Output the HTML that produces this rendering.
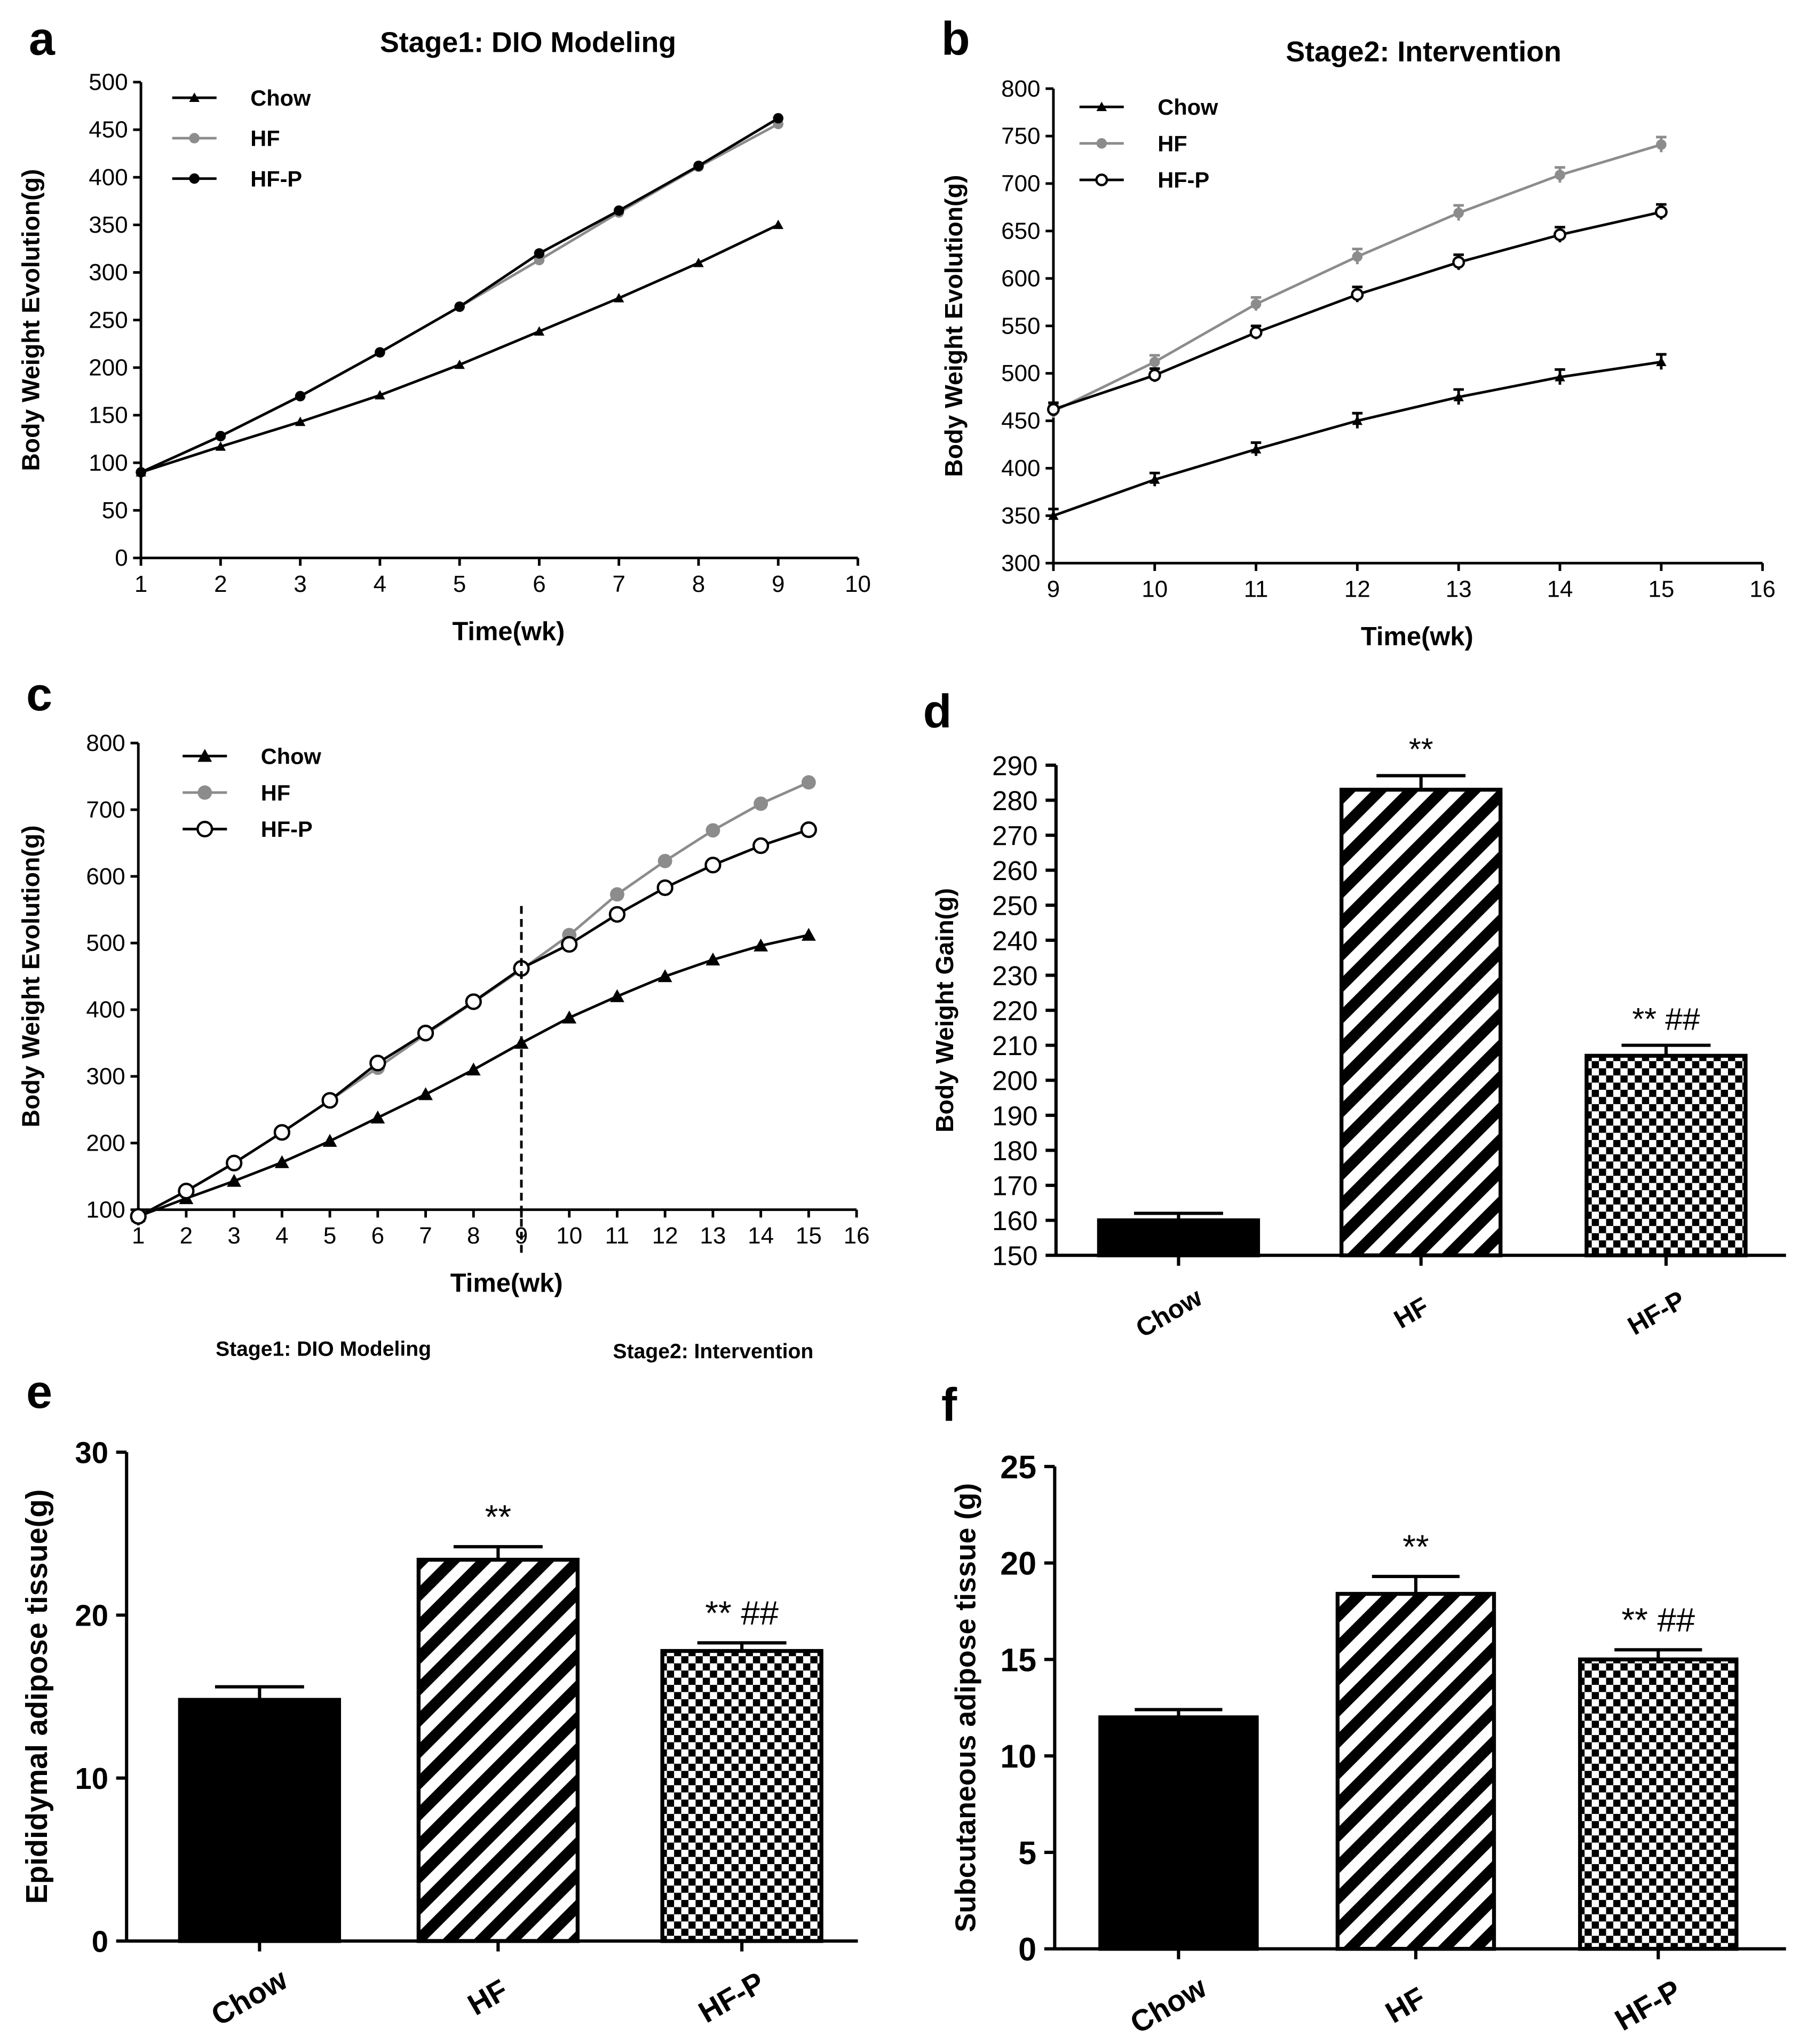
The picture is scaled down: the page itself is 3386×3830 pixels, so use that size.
<!DOCTYPE html>
<html><head><meta charset="utf-8">
<style>
html,body{margin:0;padding:0;background:#fff;}
svg{display:block;font-family:"Liberation Sans",Arial,sans-serif;}
</style></head>
<body>
<svg id="fig" width="3386" height="3830" viewBox="0 0 1386 1568" xmlns="http://www.w3.org/2000/svg">
<defs>
<pattern id="stripes" patternUnits="userSpaceOnUse" width="17" height="17" patternTransform="rotate(45)">
<rect width="17" height="17" fill="#fff"/><rect width="8.5" height="17" fill="#000"/>
</pattern>
<pattern id="checks" patternUnits="userSpaceOnUse" width="11" height="11">
<rect width="11" height="11" fill="#fff"/><rect width="5.5" height="5.5" fill="#000"/><rect x="5.5" y="5.5" width="5.5" height="5.5" fill="#000"/>
</pattern>
</defs>
</svg>
<script>
// ---------- data ----------
const weeksA=[1,2,3,4,5,6,7,8,9];
const chowA=[90,117,143,171,203,238,273,310,350];
const hfA=[90,128,170,216,264,313,363,411,456];
const hfpA=[90,128,170,216,264,320,365,412,462];
const weeksB=[9,10,11,12,13,14,15];
const chowB=[350,388,420,450,475,496,512];
const hfB=[460,512,573,623,669,709,741];
const hfpB=[462,498,543,583,617,646,670];
const errB=[7,7,7,8,8,8,8];
const weeksC=[1,2,3,4,5,6,7,8,9,10,11,12,13,14,15];
const chowC=[90,117,143,171,203,238,273,310,350,388,420,450,475,496,512];
const hfC=[90,128,170,216,264,313,363,411,460,512,573,623,669,709,741];
const hfpC=[90,128,170,216,264,320,365,412,462,498,543,583,617,646,670];
const barCats=["Chow","HF","HF-P"];
const gainVals=[160,283,207];
const gainErr=[2,4,3];
const epiVals=[14.8,23.4,17.8];
const epiErr=[0.8,0.8,0.5];
const subVals=[12,18.4,15];
const subErr=[0.4,0.9,0.5];
const ticksA=[0,50,100,150,200,250,300,350,400,450,500];
const ticksB=[300,350,400,450,500,550,600,650,700,750,800];
const ticksC=[100,200,300,400,500,600,700,800];
const ticksD=[150,160,170,180,190,200,210,220,230,240,250,260,270,280,290];
const ticksE=[0,10,20,30];
const ticksF=[0,5,10,15,20,25];

const svg=document.getElementById('fig');
const NS='http://www.w3.org/2000/svg';
function el(tag,attrs,parent){const e=document.createElementNS(NS,tag);for(const k in attrs)e.setAttribute(k,attrs[k]);(parent||svg).appendChild(e);return e;}
function txt(s,x,y,opt,parent){const t=el('text',Object.assign({x:x,y:y,'font-size':17,'font-weight':'bold','text-anchor':'middle',fill:'#000'},opt||{}),parent);t.textContent=s;return t;}
function lin(d0,d1,r0,r1){return v=>r0+(v-d0)*(r1-r0)/(d1-d0);}

function marker(g,type,x,y,color,s){
  if(type==='tri'){el('polygon',{points:`${x},${y-s} ${x-s},${y+s*0.8} ${x+s},${y+s*0.8}`,fill:color},g);}
  else if(type==='dot'){el('circle',{cx:x,cy:y,r:s,fill:color},g);}
  else {el('circle',{cx:x,cy:y,r:s,fill:'#fff',stroke:color,'stroke-width':1.8},g);}
}

function linePanel(cfg){
  const g=el('g',{});
  
  
  const X=lin(cfg.xd[0],cfg.xd[1],cfg.xr[0],cfg.xr[1]);
  const Y=lin(cfg.yd[0],cfg.yd[1],cfg.yr[0],cfg.yr[1]);
  const x0=cfg.xr[0], yb=cfg.yr[0];
  el('line',{x1:x0,y1:cfg.yaxBottom||yb,x2:x0,y2:cfg.yr[1],stroke:'#000','stroke-width':2},g);
  el('line',{x1:x0,y1:yb,x2:cfg.xr[1],y2:yb,stroke:'#000','stroke-width':2},g);
  cfg.yticks.forEach(v=>{el('line',{x1:x0-6,y1:Y(v),x2:x0,y2:Y(v),stroke:'#000','stroke-width':2},g);
    const t=txt(String(v),x0-10,Y(v)+6,{'text-anchor':'end','font-weight':'normal','font-size':18},g);
    });
  for(let v=cfg.xd[0];v<=cfg.xd[1];v++){el('line',{x1:X(v),y1:yb,x2:X(v),y2:yb+6,stroke:'#000','stroke-width':2},g);
    const t=txt(String(v),X(v),yb+26,{'font-weight':'normal','font-size':18},g);
    }
  const xt=txt('Time(wk)',(cfg.xr[0]+cfg.xr[1])/2+7,yb+63,{'font-size':20},g);
  
  const cy=(cfg.yr[0]+cfg.yr[1])/2;
  const yt=txt('Body Weight Evolution(g)',cfg.ylx,cy,{'font-size':19,transform:`rotate(-90 ${cfg.ylx} ${cy})`},g);
  
  cfg.series.forEach((s,si)=>{
    const sg=el('g',{},g);
    
    
    const pts=cfg.weeks.map((w,i)=>X(w)+','+Y(s.vals[i])).join(' ');
    el('polyline',{points:pts,fill:'none',stroke:s.color,'stroke-width':2},sg);
    cfg.weeks.forEach((w,i)=>{
      if(s.err){el('line',{x1:X(w),y1:Y(s.vals[i]+s.err[i]),x2:X(w),y2:Y(s.vals[i]-s.err[i]),stroke:s.color,'stroke-width':2},sg);
        el('line',{x1:X(w)-4,y1:Y(s.vals[i]+s.err[i]),x2:X(w)+4,y2:Y(s.vals[i]+s.err[i]),stroke:s.color,'stroke-width':2},sg);}
      marker(sg,s.m,X(w),Y(s.vals[i]),s.color,cfg.ms);});
    const ly=cfg.legY+si*cfg.legDY;
    const lg=el('g',{},g);
    
    
    el('line',{x1:cfg.legX,y1:ly,x2:cfg.legX+34,y2:ly,stroke:s.color,'stroke-width':2},lg);
    marker(lg,s.m,cfg.legX+17,ly,s.color,cfg.ms);
    txt(s.label,cfg.legX+60,ly+6,{'text-anchor':'start','font-size':17},lg);
  });
  return {g,X,Y};
}

function barPanel(cfg){
  const g=el('g',{});
  
  
  const Y=lin(cfg.yd[0],cfg.yd[1],cfg.yr[0],cfg.yr[1]);
  const x0=cfg.xr[0],yb=cfg.yr[0];
  el('line',{x1:x0,y1:yb,x2:x0,y2:cfg.yr[1],stroke:'#000','stroke-width':2.5},g);
  el('line',{x1:x0,y1:yb,x2:cfg.xr[1],y2:yb,stroke:'#000','stroke-width':2.5},g);
  cfg.yticks.forEach(v=>{el('line',{x1:x0-8,y1:Y(v),x2:x0,y2:Y(v),stroke:'#000','stroke-width':2.5},g);
    const t=txt(String(v),x0-14,Y(v)+cfg.tfs*0.36,{'text-anchor':'end','font-weight':cfg.tfw,'font-size':cfg.tfs},g);
    });
  const cy=(cfg.yr[0]+cfg.yr[1])/2;
  const yt=txt(cfg.ylabel,cfg.ylx,cy,{'font-size':cfg.yfs,transform:`rotate(-90 ${cfg.ylx} ${cy})`},g);
  
  const fills=['#000','url(#stripes)','url(#checks)'];
  barCats.forEach((c,i)=>{
    const cx=cfg.centers[i],w=cfg.bw,v=cfg.vals[i],e=cfg.errs[i];
    const b=el('rect',{x:cx-w/2,y:Y(v),width:w,height:yb-Y(v),fill:fills[i],stroke:'#000','stroke-width':3},g);
    
    el('line',{x1:cx,y1:Y(v),x2:cx,y2:Y(v+e),stroke:'#000','stroke-width':2.5},g);
    el('line',{x1:cx-w*0.28,y1:Y(v+e),x2:cx+w*0.28,y2:Y(v+e),stroke:'#000','stroke-width':2.5},g);
    el('line',{x1:cx,y1:yb,x2:cx,y2:yb+8,stroke:'#000','stroke-width':2.5},g);
    const lx=cx-4,ly=yb+cfg.catDy;
    const t=txt(c,lx,ly,{'font-size':cfg.cfs,transform:`rotate(-30 ${lx} ${ly})`},g);
    
    if(cfg.sig[i]){const s=txt(cfg.sig[i],cx,Y(v+e)-cfg.sigDy,{'font-size':cfg.sfs,'font-weight':'normal'},g);
      }
  });
}

function panelLetter(s,x,y){const t=txt(s,x,y,{'font-size':36,'text-anchor':'start'});
  }

// Panel a
panelLetter('a',22,42);
let t=txt('Stage1: DIO Modeling',405,40,{'font-size':22});
linePanel({name:'panel-a',weeks:weeksA,xd:[1,10],xr:[108,658],yd:[0,500],yr:[428,63],yticks:ticksA,ylx:30,ms:4,
  legX:132,legY:75,legDY:31,
  series:[{label:'Chow',vals:chowA,color:'#000',m:'tri'},{label:'HF',vals:hfA,color:'#8c8c8c',m:'dot'},{label:'HF-P',vals:hfpA,color:'#000',m:'dot'}]});

// Panel b
panelLetter('b',722,42);
t=txt('Stage2: Intervention',1092,47,{'font-size':22});
linePanel({name:'panel-b',weeks:weeksB,xd:[9,16],xr:[808,1352],yd:[300,800],yr:[432,68],yticks:ticksB,ylx:738,ms:4,
  legX:828,legY:82,legDY:28,
  series:[{label:'Chow',vals:chowB,color:'#000',m:'tri',err:errB},{label:'HF',vals:hfB,color:'#8c8c8c',m:'dot',err:errB},{label:'HF-P',vals:hfpB,color:'#000',m:'open',err:errB}]});

// Panel c
panelLetter('c',20,545);
const pc=linePanel({name:'panel-c',weeks:weeksC,xd:[1,16],xr:[106,657],yd:[100,800],yr:[928,570],yticks:ticksC,ylx:30,ms:5.5,
  legX:140,legY:580,legDY:28,yaxBottom:940,
  series:[{label:'Chow',vals:chowC,color:'#000',m:'tri'},{label:'HF',vals:hfC,color:'#8c8c8c',m:'dot'},{label:'HF-P',vals:hfpC,color:'#000',m:'open'}]});
const dl=el('line',{x1:pc.X(9),y1:695,x2:pc.X(9),y2:962,stroke:'#000','stroke-width':2,'stroke-dasharray':'6,4'});

t=txt('Stage1: DIO Modeling',248,1040,{'font-size':16});
t=txt('Stage2: Intervention',547,1042,{'font-size':16});

// Panel d
panelLetter('d',708,558);
barPanel({name:'panel-d',xr:[810,1370],yd:[150,290],yr:[963,587],yticks:ticksD,ylx:731,yfs:19,tfs:21,tfw:'normal',ylabel:'Body Weight Gain(g)',
  centers:[904,1090,1278],bw:122,vals:gainVals,errs:gainErr,catDy:50,cfs:20,
  sig:['','**','**    ##'],sigDy:12,sfs:24});

// Panel e
panelLetter('e',20,1080);
barPanel({name:'panel-e',xr:[97,658],yd:[0,30],yr:[1489,1114],yticks:ticksE,ylx:36,yfs:23,tfs:23,tfw:'bold',ylabel:'Epididymal adipose tissue(g)',
  centers:[199,382,569],bw:122,vals:epiVals,errs:epiErr,catDy:50,cfs:23,
  sig:['','**','** ##'],sigDy:14,sfs:26});

// Panel f
panelLetter('f',722,1090);
barPanel({name:'panel-f',xr:[809,1370],yd:[0,25],yr:[1495,1125],yticks:ticksF,ylx:748,yfs:22,tfs:25,tfw:'bold',ylabel:'Subcutaneous adipose tissue (g)',
  centers:[904,1086,1272],bw:120,vals:subVals,errs:subErr,catDy:50,cfs:23,
  sig:['','**','** ##'],sigDy:14,sfs:26});
</script>
</body></html>
